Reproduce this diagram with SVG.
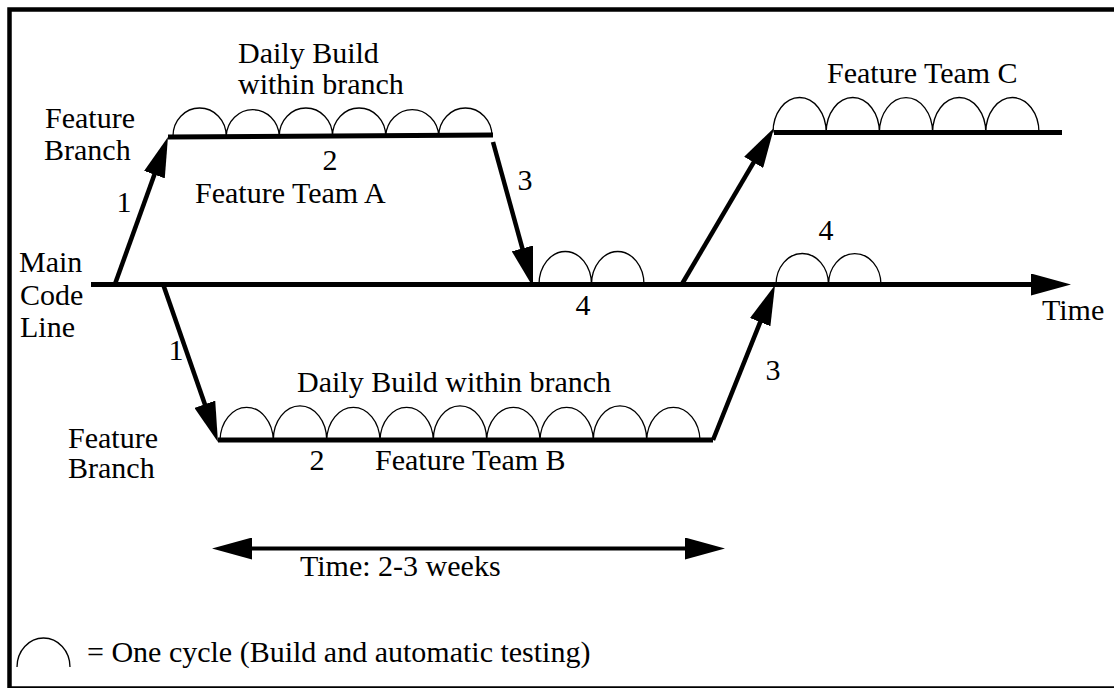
<svg xmlns="http://www.w3.org/2000/svg" width="1114" height="688" viewBox="0 0 1114 688">
  <style>
    text { font-family: "Liberation Serif", "Times New Roman", serif; font-size: 30px; fill: #000; }
    .mid { text-anchor: middle; }
    .frame { fill: none; stroke: #000; stroke-width: 4.5; }
    .trunk { stroke: #000; stroke-width: 5; fill: none; }
    .branch { stroke: #000; stroke-width: 5; fill: none; }
    .link { stroke: #000; stroke-width: 4.5; fill: none; marker-end: url(#head); }
    .span { stroke: #000; stroke-width: 4; fill: none; marker-start: url(#head); marker-end: url(#head); }
    .cycle { stroke: #000; stroke-width: 1.3; fill: none; }
  </style>
  <defs>
    <marker id="head" viewBox="0 0 40 22" refX="20" refY="11" markerWidth="40" markerHeight="22" markerUnits="userSpaceOnUse" orient="auto-start-reverse">
      <path d="M0,0 L40,11 L0,22 z" fill="#000"/>
    </marker>
  </defs>

  <rect width="1114" height="688" fill="#fff"/>
  <rect class="frame" x="9.5" y="9.5" width="1110" height="679"/>

  <!-- main code line -->
  <g id="main-line">
    <line class="trunk" x1="91" y1="284.5" x2="1051" y2="284.5" marker-end="url(#head)"/>
    <path class="cycle" d="M539,284.5 A26.25 33 0 0 1 591.5,284.5 A26.25 33 0 0 1 644,284.5"/>
    <path class="cycle" d="M776,284.5 A26.25 31 0 0 1 828.5,284.5 A26.25 31 0 0 1 881,284.5"/>
    <text x="19" y="272">Main</text>
    <text x="20" y="305">Code</text>
    <text x="20" y="337">Line</text>
    <text class="mid" x="583" y="315">4</text>
    <text class="mid" x="826" y="240">4</text>
    <text x="1042" y="320">Time</text>
  </g>

  <!-- feature team A branch -->
  <g id="branch-a">
    <line class="branch" x1="168" y1="137" x2="493" y2="135"/>
    <path class="cycle" d="M173,136 A26.6 28 0 0 1 226.2,136 A26.6 28 0 0 1 279.3,136 A26.6 28 0 0 1 332.5,136 A26.6 28 0 0 1 385.7,136 A26.6 28 0 0 1 438.8,136 A26.6 28 0 0 1 492,136"/>
    <text x="238" y="63">Daily Build</text>
    <text x="238" y="94">within branch</text>
    <text x="45" y="128">Feature</text>
    <text x="44" y="160">Branch</text>
    <text class="mid" x="330" y="170">2</text>
    <text x="195" y="203">Feature Team A</text>
  </g>

  <!-- feature team B branch -->
  <g id="branch-b">
    <line class="branch" x1="218" y1="440" x2="713" y2="440"/>
    <path class="cycle" d="M220,440 A26.67 34 0 0 1 273.3,440 A26.67 34 0 0 1 326.7,440 A26.67 34 0 0 1 380,440 A26.67 34 0 0 1 433.3,440 A26.67 34 0 0 1 486.7,440 A26.67 34 0 0 1 540,440 A26.67 34 0 0 1 593.3,440 A26.67 34 0 0 1 646.7,440 A26.67 34 0 0 1 700,440"/>
    <text x="297" y="392">Daily Build within branch</text>
    <text x="68" y="448">Feature</text>
    <text x="68" y="478">Branch</text>
    <text class="mid" x="317" y="470">2</text>
    <text x="375" y="470">Feature Team B</text>
  </g>

  <!-- feature team C branch -->
  <g id="branch-c">
    <line class="branch" x1="774" y1="132.5" x2="1062" y2="132.5"/>
    <path class="cycle" d="M773,132.5 A26.6 35 0 0 1 826.2,132.5 A26.6 35 0 0 1 879.4,132.5 A26.6 35 0 0 1 932.6,132.5 A26.6 35 0 0 1 985.8,132.5 A26.6 35 0 0 1 1039,132.5"/>
    <text x="827" y="83">Feature Team C</text>
  </g>

  <!-- branch / merge connectors -->
  <g id="connectors">
    <line class="link" x1="115" y1="284" x2="161.2" y2="155.8"/>
    <line class="link" x1="493" y1="142" x2="527.7" y2="267.7"/>
    <line class="link" x1="682" y1="284" x2="763.8" y2="145.2"/>
    <line class="link" x1="163" y1="284" x2="211.4" y2="423.1"/>
    <line class="link" x1="713" y1="440" x2="767.6" y2="303.6"/>
    <text class="mid" x="124" y="212">1</text>
    <text class="mid" x="525" y="190">3</text>
    <text class="mid" x="176" y="360">1</text>
    <text class="mid" x="773" y="380">3</text>
  </g>

  <!-- duration span -->
  <g id="duration">
    <line class="span" x1="232" y1="548.5" x2="705" y2="548.5"/>
    <text x="300" y="576">Time: 2-3 weeks</text>
  </g>

  <!-- legend -->
  <g id="legend">
    <path class="cycle" d="M17,667 A26.5 29 0 0 1 70,667"/>
    <text x="87" y="662">= One cycle (Build and automatic testing)</text>
  </g>
</svg>
